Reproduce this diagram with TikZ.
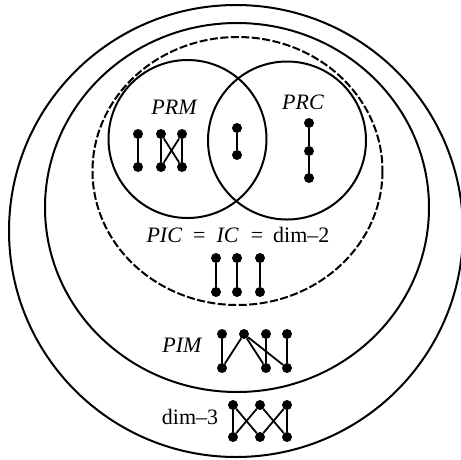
\documentclass[tikz,border=0pt]{standalone}
\usepackage{fontspec}
\setmainfont{Liberation Serif}
\usetikzlibrary{positioning}

\begin{document}
\begin{tikzpicture}[
    x=1pt, y=-1pt,
    region/.style={line width=2pt},
    dashregion/.style={line width=2pt, dash pattern=on 8pt off 2.5pt},
    pt/.style={circle, fill=black, inner sep=0pt, minimum size=10pt},
    edge/.style={line width=1.8pt},
    lbl/.style={font=\fontsize{22}{26}\selectfont\itshape, inner sep=0pt},
    rlbl/.style={font=\fontsize{22}{26}\selectfont, inner sep=0pt},
]
\useasboundingbox (0,0) rectangle (461,459);

% Nested classes
\draw[region] (236,231) ellipse [x radius=227, y radius=226];
\draw[region] (237,207.5) ellipse [x radius=192, y radius=184.5];
\draw[dashregion] (237.5,171) ellipse [x radius=145, y radius=134];
\draw[region] (187.5,139) circle [radius=79];
\draw[region] (287,140.5) circle [radius=79];

% Labels
\node[lbl] (prm) at (174,107) {PRM};
\node[lbl] (prc) at (303,102) {PRC};
\node[rlbl] (pic) at (238,235) {\textit{PIC}\hspace{11pt}=\hspace{11pt}\textit{IC}\hspace{12pt}=\hspace{10pt}dim--2};
\node[lbl] (pim) at (182,345) {PIM};
\node[rlbl] (dimthree) at (190,417) {dim--3};

% PRM: chain and crossed pair
\node[pt] (ma) at (138,134) {};
\node[pt] (mb) at (138,167) {};
\node[pt] (mc) at (161,134) {};
\node[pt] (md) at (182,134) {};
\node[pt] (me) at (161,167) {};
\node[pt] (mf) at (182,167) {};
\draw[edge] (ma) -- (mb);
\draw[edge] (mc) -- (me);
\draw[edge] (mc) -- (mf);
\draw[edge] (md) -- (me);
\draw[edge] (md) -- (mf);

% PRM and PRC
\node[pt] (ia) at (237,128) {};
\node[pt] (ib) at (237,155) {};
\draw[edge] (ia) -- (ib);

% PRC: 3-chain
\node[pt] (ca) at (309,123) {};
\node[pt] (cb) at (309,151) {};
\node[pt] (cc) at (309,178) {};
\draw[edge] (ca) -- (cb) -- (cc);

% PIC: three 2-chains
\foreach \x/\n in {216/1, 237/2, 260/3} {
    \node[pt] (pt\n) at (\x,258) {};
    \node[pt] (pb\n) at (\x,292) {};
    \draw[edge] (pt\n) -- (pb\n);
}

% PIM
\node[pt] (ua) at (222,334) {};
\node[pt] (ub) at (244,334) {};
\node[pt] (uc) at (266,334) {};
\node[pt] (ud) at (287,334) {};
\node[pt] (la) at (222,368) {};
\node[pt] (lc) at (266,368) {};
\node[pt] (ld) at (287,368) {};
\draw[edge] (ua) -- (la);
\draw[edge] (ub) -- (la);
\draw[edge] (ub) -- (lc);
\draw[edge] (ub) -- (ld);
\draw[edge] (uc) -- (lc);
\draw[edge] (ud) -- (ld);

% dim-3: standard example
\node[pt] (sa) at (233,405) {};
\node[pt] (sb) at (260,405) {};
\node[pt] (sc) at (287,405) {};
\node[pt] (ta) at (233,437) {};
\node[pt] (tb) at (260,437) {};
\node[pt] (tc) at (287,437) {};
\draw[edge] (sa) -- (ta);
\draw[edge] (sa) -- (tb);
\draw[edge] (sb) -- (ta);
\draw[edge] (sb) -- (tc);
\draw[edge] (sc) -- (tb);
\draw[edge] (sc) -- (tc);

\end{tikzpicture}
\end{document}
